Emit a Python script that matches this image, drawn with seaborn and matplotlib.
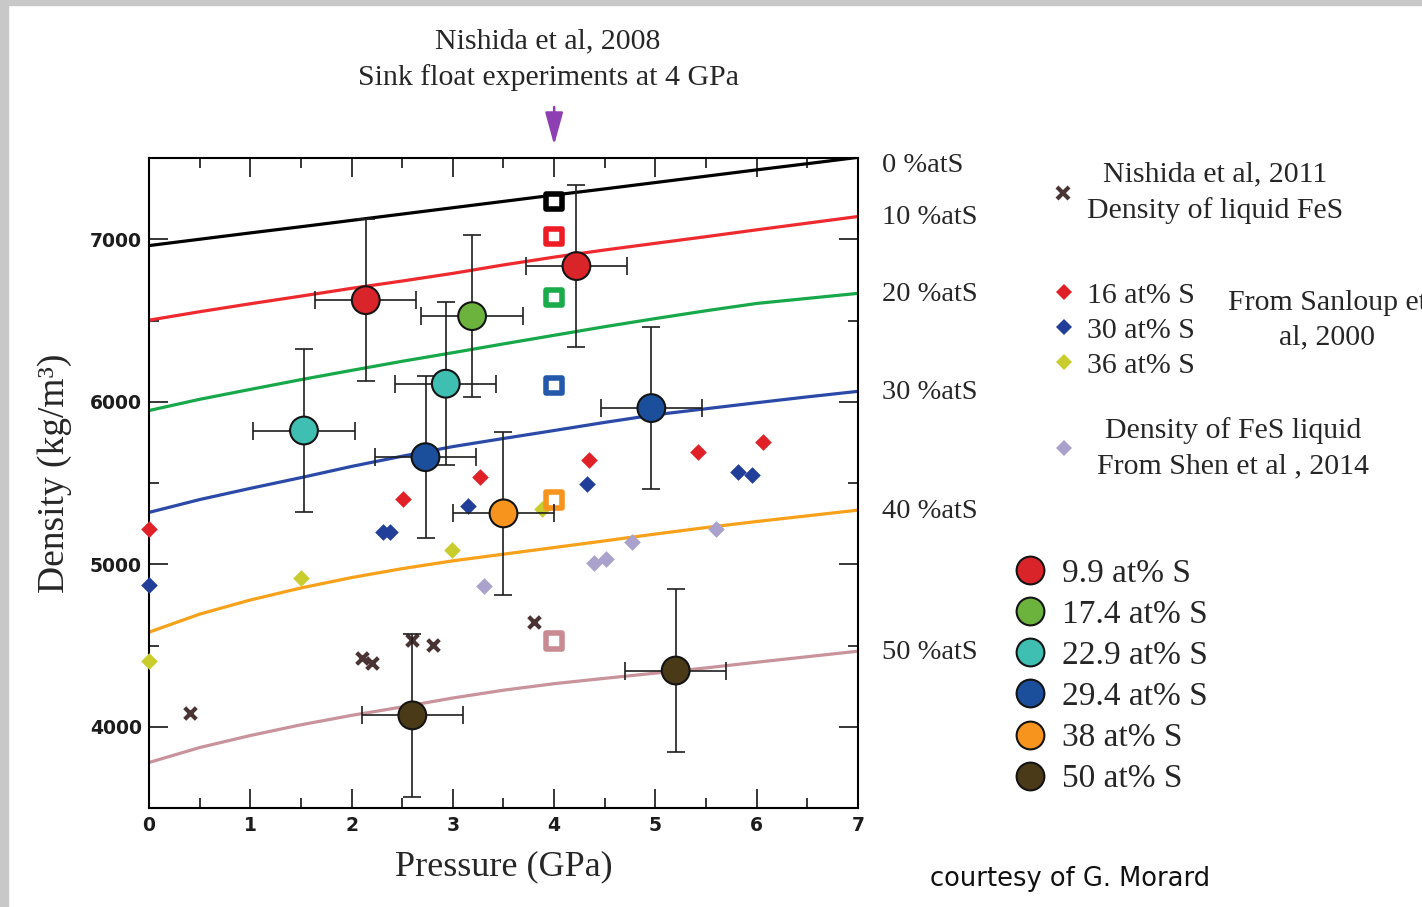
import matplotlib
matplotlib.use("Agg")
import matplotlib.pyplot as plt
from matplotlib.lines import Line2D
from matplotlib.patches import Rectangle
from matplotlib.ticker import MultipleLocator
import pandas as pd
import seaborn as sns

# ---------------------------------------------------------------- data
# Model density curves (kg/m3) against pressure (GPa) for several S contents
CURVE_P = [0, 0.5, 1, 1.5, 2, 2.5, 3, 3.5, 4, 4.5, 5, 5.5, 6, 6.5, 7]
CURVE_LABELS = ["0 %atS", "10 %atS", "20 %atS", "30 %atS", "40 %atS", "50 %atS"]
CURVE_S0 = [6961, 7000, 7039, 7077, 7116, 7155, 7194, 7233, 7272, 7310, 7349, 7388, 7427, 7465, 7504]
CURVE_S10 = [6502, 6554, 6603, 6650, 6698, 6743, 6790, 6842, 6890, 6934, 6975, 7016, 7058, 7099, 7140]
CURVE_S20 = [5946, 6015, 6076, 6136, 6193, 6249, 6302, 6356, 6409, 6462, 6512, 6560, 6605, 6636, 6667]
CURVE_S30 = [5319, 5398, 5467, 5533, 5602, 5665, 5724, 5774, 5823, 5873, 5920, 5957, 5994, 6030, 6064]
CURVE_S40 = [4582, 4693, 4780, 4854, 4918, 4973, 5021, 5062, 5103, 5144, 5186, 5226, 5263, 5298, 5333]
CURVE_S50 = [3780, 3872, 3946, 4012, 4070, 4122, 4177, 4225, 4265, 4298, 4330, 4362, 4397, 4431, 4465]
CURVE_COLORS = ["#000000", "#ee2a2e", "#17a84a", "#2b4aa8", "#f7a11a", "#c9939c"]

# Sink/float experiments at 4 GPa (Nishida et al, 2008), one per S content
SF_P = [4, 4, 4, 4, 4, 4]
SF_RHO = [7233, 7017, 6642, 6101, 5397, 4527]
SF_COLORS = ["#000000", "#ee1c25", "#1aab4a", "#2458ab", "#f7941d", "#c98b92"]

# Liquid FeS (Nishida et al, 2011)
N11_P = [0.40, 2.10, 2.20, 2.60, 2.80, 3.80]
N11_RHO = [4085, 4424, 4393, 4533, 4506, 4646]

# Sanloup et al, 2000
S16_P = [0.0, 2.51, 3.27, 4.34, 5.42, 6.06]
S16_RHO = [5220, 5401, 5539, 5642, 5693, 5751]
S30_P = [0.0, 2.31, 2.38, 3.15, 4.32, 5.82, 5.95]
S30_RHO = [4870, 5196, 5196, 5356, 5494, 5566, 5549]
S36_P = [0.0, 1.50, 2.99, 3.88]
S36_RHO = [4407, 4914, 5086, 5340]

# Liquid FeS (Shen et al, 2014)
SHEN_P = [3.31, 4.39, 4.51, 4.77, 5.60]
SHEN_RHO = [4866, 5010, 5031, 5134, 5216]

# New measurements with uncertainties
EXP_LABELS = ["9.9 at% S", "17.4 at% S", "22.9 at% S", "29.4 at% S", "38 at% S", "50 at% S"]
EXP_P = [[2.14, 4.22], [3.19], [1.53, 2.93], [2.73, 4.96], [3.50], [2.60, 5.20]]
EXP_RHO = [[6625, 6835], [6527], [5823, 6111], [5659, 5961], [5313], [4070, 4346]]
EXP_PERR = [[0.5, 0.5], [0.5], [0.5, 0.5], [0.5, 0.5], [0.5], [0.5, 0.5]]
EXP_RHOERR = [[500, 500], [500], [500, 500], [500, 500], [500], [500, 500]]
EXP_COLORS = ["#d9242a", "#6cb33e", "#3fbfb2", "#1b4f9b", "#f7941d", "#4b3a18"]

X_TICKS = [0, 1, 2, 3, 4, 5, 6, 7]
Y_TICKS = [4000, 5000, 6000, 7000]

RED_D, BLUE_D, YEL_D, LAV_D = "#e02228", "#213f99", "#c8cc2c", "#aaa2cc"
CROSS_C = "#4a3333"
PURPLE = "#8e3fb2"

# ---------------------------------------------------------------- style
sns.set_style("ticks")
plt.rcParams["font.family"] = ["Liberation Serif", "DejaVu Serif"]
plt.rcParams["axes.linewidth"] = 1.5

W, H = 1422, 907
fig = plt.figure(figsize=(W / 100, H / 100), dpi=100)
fig.patch.set_facecolor("white")
# grey frame strips along the left and top edges
fig.patches.append(Rectangle((0, 0), 8 / W, 1, transform=fig.transFigure,
                             color="#c8c8c8", zorder=0))
fig.patches.append(Rectangle((0, 1 - 5 / H), 1, 5 / H, transform=fig.transFigure,
                             color="#c8c8c8", zorder=0))

ax = fig.add_axes([149 / W, 1 - 808 / H, 709 / W, 650 / H])

# ---------------------------------------------------------------- curves
curves = [CURVE_S0, CURVE_S10, CURVE_S20, CURVE_S30, CURVE_S40, CURVE_S50]
curve_df = pd.concat(
    [pd.DataFrame({"P": CURVE_P, "rho": vals, "curve": lab})
     for vals, lab in zip(curves, CURVE_LABELS)], ignore_index=True)
sns.lineplot(data=curve_df, x="P", y="rho", hue="curve",
             palette=dict(zip(CURVE_LABELS, CURVE_COLORS)),
             estimator=None, sort=False, linewidth=2.3, legend=False, ax=ax,
             zorder=2)

for vals, lab in zip(curves, CURVE_LABELS):
    dy = -6 if vals is CURVE_S0 else -1
    ax.annotate(lab, xy=(CURVE_P[-1], vals[-1]), xytext=(17, dy),
                textcoords="offset points", ha="left", va="center",
                fontsize=20.5, annotation_clip=False)

# ---------------------------------------------------------------- other data sets
def diamonds(px, rho, color):
    sns.scatterplot(x=px, y=rho, marker="D", s=72, color=color, linewidth=0,
                    legend=False, ax=ax, zorder=3, clip_on=False)

diamonds(S16_P, S16_RHO, RED_D)
diamonds(S30_P, S30_RHO, BLUE_D)
diamonds(S36_P, S36_RHO, YEL_D)
diamonds(SHEN_P, SHEN_RHO, LAV_D)

sns.scatterplot(x=N11_P, y=N11_RHO, marker="x", s=70, color=CROSS_C,
                linewidth=3.0, legend=False, ax=ax, zorder=3)

sf_df = pd.DataFrame({"P": SF_P, "rho": SF_RHO, "curve": CURVE_LABELS})
sns.scatterplot(data=sf_df, x="P", y="rho", hue="curve",
                palette=dict(zip(CURVE_LABELS, SF_COLORS)), marker="s", s=125,
                linewidth=4.0, legend=False, ax=ax, zorder=3)
sq = ax.collections[-1]
sq.set_edgecolor(sq.get_facecolor())
sq.set_facecolor("white")

# ---------------------------------------------------------------- measurements
exp_df = pd.DataFrame({
    "P": [p for grp in EXP_P for p in grp],
    "rho": [r for grp in EXP_RHO for r in grp],
    "perr": [e for grp in EXP_PERR for e in grp],
    "rerr": [e for grp in EXP_RHOERR for e in grp],
    "label": [lab for grp, lab in zip(EXP_P, EXP_LABELS) for _ in grp],
})
ax.errorbar(exp_df["P"], exp_df["rho"], xerr=exp_df["perr"], yerr=exp_df["rerr"],
            fmt="none", ecolor="#1e1e1e", elinewidth=1.2, capsize=6.5,
            capthick=1.2, zorder=4)
sns.scatterplot(data=exp_df, x="P", y="rho", hue="label",
                palette=dict(zip(EXP_LABELS, EXP_COLORS)), s=400,
                edgecolor="#141414", linewidth=1.5, legend=False, ax=ax, zorder=5)

# ---------------------------------------------------------------- axes
ax.set_xlim(0, 7)
ax.set_ylim(3500, 7500)
ax.set_xticks(X_TICKS)
ax.set_yticks(Y_TICKS)
ax.xaxis.set_minor_locator(MultipleLocator(0.5))
ax.yaxis.set_minor_locator(MultipleLocator(500))
ax.tick_params(which="both", direction="in", top=True, right=True,
               width=1.1, color="black")
ax.tick_params(which="major", length=13.5)
ax.tick_params(which="minor", length=7)
ax.tick_params(axis="y", pad=5)
ax.tick_params(axis="x", pad=6)
for lbl in ax.get_xticklabels() + ax.get_yticklabels():
    lbl.set_fontfamily("DejaVu Sans")
    lbl.set_fontweight("bold")
    lbl.set_fontsize(13.5)
    lbl.set_color("#1c1c1c")
for s in ax.spines.values():
    s.set_visible(True)
    s.set_linewidth(1.5)
    s.set_color("black")

ax.set_xlabel("Pressure (GPa)", fontsize=26, labelpad=11)
ax.set_ylabel("Density (kg/m³)", fontsize=27)
ax.yaxis.set_label_coords(-0.108, 0.515)

# sink/float experiment marker above the plot
ax.annotate("", xy=(SF_P[0], 1 + 13 / 650), xycoords=("data", "axes fraction"),
            xytext=(SF_P[0], 1 + 51 / 650), textcoords=("data", "axes fraction"),
            arrowprops=dict(arrowstyle="-|>,head_length=0.8,head_width=0.22",
                            color=PURPLE, lw=1.8, mutation_scale=25,
                            shrinkA=0, shrinkB=0),
            annotation_clip=False)
fig.text(548 / W, 1 - 60 / H, "Nishida et al, 2008\nSink float experiments at 4 GPa",
         ha="center", va="center", multialignment="center", fontsize=21.5,
         linespacing=1.45)

# ---------------------------------------------------------------- legends
LEG_FS = 21.5


def single_legend(handle, label, x, y, pad):
    leg = fig.legend(handles=[handle], labels=[label], loc="center left",
                     bbox_to_anchor=(x / W, 1 - y / H), frameon=False,
                     fontsize=LEG_FS, handlelength=0.6, handletextpad=pad,
                     borderpad=0, borderaxespad=0)
    for t in leg.get_texts():
        t.set_multialignment("center")
        t.set_linespacing(1.45)
    return leg


single_legend(Line2D([], [], ls="none", marker="x", ms=8, mew=3, color=CROSS_C),
              "Nishida et al, 2011\nDensity of liquid FeS", 1054, 193, 0.5)
single_legend(Line2D([], [], ls="none", marker="D", ms=8.5, mew=0, color=LAV_D),
              "Density of FeS liquid\nFrom Shen et al , 2014", 1055, 448, 0.82)

diam_handles = [Line2D([], [], ls="none", marker="D", ms=8.5, mew=0, color=c)
                for c in (RED_D, BLUE_D, YEL_D)]
fig.legend(handles=diam_handles, labels=["16 at% S", "30 at% S", "36 at% S"],
           loc="upper left", bbox_to_anchor=(1055 / W, 1 - 282 / H),
           frameon=False, fontsize=LEG_FS, handlelength=0.6, handletextpad=0.48,
           labelspacing=0.27, borderpad=0, borderaxespad=0)
fig.text(1327 / W, 1 - 320 / H, "From Sanloup et\nal, 2000", ha="center",
         va="center", multialignment="center", fontsize=LEG_FS, linespacing=1.45)

circ_handles = [Line2D([], [], ls="none", marker="o", ms=20, mew=1.5,
                       mfc=c, mec="#141414") for c in EXP_COLORS]
fig.legend(handles=circ_handles, labels=EXP_LABELS, loc="upper left",
           bbox_to_anchor=(1013 / W, 1 - 558 / H), frameon=False, fontsize=24,
           handlelength=1.0, handletextpad=0.47, labelspacing=0.32,
           borderpad=0, borderaxespad=0)

fig.text(930 / W, 1 - 879 / H, "courtesy of G. Morard", ha="left", va="center",
         fontsize=18.5, family="DejaVu Sans", color="#111111")

fig.savefig("out.png", dpi=100)
